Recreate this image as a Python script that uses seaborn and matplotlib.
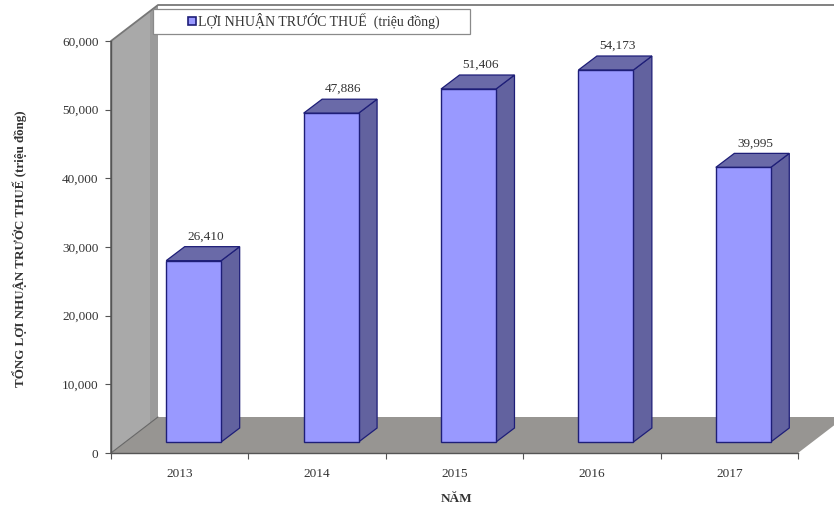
import matplotlib
matplotlib.use("Agg")
import matplotlib.pyplot as plt
from matplotlib.patches import Polygon, Rectangle
from matplotlib.transforms import Affine2D, IdentityTransform
from matplotlib.ticker import FuncFormatter
import pandas as pd
import seaborn as sns

years = ["2013", "2014", "2015", "2016", "2017"]
profit = [26410, 47886, 51406, 54173, 39995]
series_name = "LỢI NHUẬN TRƯỚC THUẾ  (triệu đồng)"
y_title = "TỔNG LỢI NHUẬN TRƯỚC THUẾ (triệu đồng)"
x_title = "NĂM"

FRONT = "#9999FF"
SHADE = "#62629F"
EDGE = "#1E1E78"
WALL = "#A9A9A9"
WALL_BACK = "#9B9B9B"
FLOOR = "#979592"
AXIS = "#555555"
TEXT = "#333333"

W, H = 834, 508
sns.set_style("white")
plt.rcParams["font.family"] = ["Liberation Serif", "DejaVu Serif"]

fig = plt.figure(figsize=(W / 100, H / 100), dpi=100, facecolor="white")
ax = fig.add_axes([111 / W, 1 - 453 / H, (798 - 111) / W, (453 - 41) / H])
ax.patch.set_visible(False)

df = pd.DataFrame({"year": years, "profit": profit, "series": series_name})
sns.barplot(data=df, x="year", y="profit", color=FRONT, width=0.40, saturation=1,
            linewidth=1.0, edgecolor=EDGE, ax=ax, zorder=5)
ax.set_xlim(-0.5, 4.5)
ax.set_ylim(0, 60000)
fig.canvas.draw()


def px(x, y):
    """Data position to display pixels."""
    return ax.transData.transform((x, y))


def solid(points, color, zorder, edge="none", lw=0.0):
    fig.add_artist(Polygon(points, closed=True, facecolor=color, edgecolor=edge,
                           linewidth=lw, transform=IdentityTransform(), zorder=zorder,
                           joinstyle="miter"))


# Chart box: side wall, floor and back-wall outline share one oblique depth
box_dx, box_dy = 47, 36
o = px(-0.5, 0)
t = px(-0.5, 60000)
r = px(4.5, 0)
back = lambda p, f=1.0: (p[0] + box_dx * f, p[1] + box_dy * f)

solid([o, t, back(t), back(o)], WALL, 0.2)
solid([back(t, 39 / 47), back(t), back(o), back(o, 39 / 47)], WALL_BACK, 0.3)
solid([o, r, back(r), back(o)], FLOOR, 0.4)
fig.add_artist(plt.Line2D([o[0], back(o)[0]], [o[1], back(o)[1]], color="#666666", lw=0.8,
                          transform=IdentityTransform(), zorder=0.5))
fig.add_artist(plt.Line2D([o[0], t[0], back(t)[0], W], [o[1], t[1], back(t)[1], back(t)[1]],
                          color="#777777", lw=1.3, transform=IdentityTransform(), zorder=0.5))

# Bars stand inside the box; their faces are derived from each seaborn bar
bar_shift = Affine2D().translate(14, 11)
bar_dx, bar_dy = 18.5, 14
for bar, value in zip(ax.patches, profit):
    bar.set_transform(ax.transData + bar_shift)
    bar.set_clip_on(False)
    x0, x1 = bar.get_x(), bar.get_x() + bar.get_width()
    br = px(x1, 0) + (14, 11)
    tl = px(x0, value) + (14, 11)
    tr = px(x1, value) + (14, 11)
    side = [br, tr, tr + (bar_dx, bar_dy), br + (bar_dx, bar_dy)]
    top = [tl, tr, tr + (bar_dx, bar_dy), tl + (bar_dx, bar_dy)]
    solid(side, SHADE, 1, EDGE, 0.9)
    solid(top, "#6A6AA8", 1, EDGE, 0.9)
    ax.text((tl[0] + tr[0]) / 2 + 12, tr[1] + bar_dy + 10, f"{value:,}", transform=IdentityTransform(),
            ha="center", va="center", fontsize=9.5, color=TEXT, zorder=6, clip_on=False)

ax.set_zorder(2)
for name in ("top", "right"):
    ax.spines[name].set_visible(False)
for name in ("left", "bottom"):
    ax.spines[name].set_color(AXIS)
    ax.spines[name].set_linewidth(1.0)

ax.set_yticks(range(0, 60001, 10000))
ax.yaxis.set_major_formatter(FuncFormatter(lambda v, _: f"{int(v):,}"))
ax.tick_params(axis="y", direction="out", length=4, width=0.8, color=AXIS, labelsize=9.5,
               labelcolor=TEXT, pad=5, left=True)
ax.set_xticks(range(len(years)))
ax.set_xticklabels(years)
ax.set_xticks([i - 0.5 for i in range(len(years) + 1)], minor=True)
ax.tick_params(axis="x", which="major", length=0, labelsize=9.5, labelcolor=TEXT, pad=10.5)
ax.tick_params(axis="x", which="minor", direction="out", length=4, width=0.8, color=AXIS, bottom=True)

ax.set_xlabel("")
ax.set_ylabel("")
fig.text(457 / W, 1 - 499 / H, x_title, ha="center", va="center", fontsize=9.5,
         fontweight="bold", color=TEXT)
fig.text(20 / W, 1 - 249 / H, y_title, rotation=90, ha="center", va="center", fontsize=9.4,
         fontweight="bold", color=TEXT)

# Legend panel overlapping the top of the box
fig.add_artist(Rectangle((153, H - 34), 317, 25, facecolor="white", edgecolor="#8A8A8A", linewidth=0.9,
                         transform=IdentityTransform(), zorder=3))
handle = Rectangle((0, 0), 1, 1, facecolor=FRONT, edgecolor=EDGE, linewidth=1.2)
leg = fig.legend([handle], [series_name], loc="center", bbox_to_anchor=(314 / W, 1 - 21 / H), frameon=False,
                 fontsize=10, handlelength=0.55, handleheight=0.55, handletextpad=0.2,
                 labelcolor=TEXT)
leg.set_zorder(4)

fig.savefig("out.png", dpi=100, facecolor="white")
